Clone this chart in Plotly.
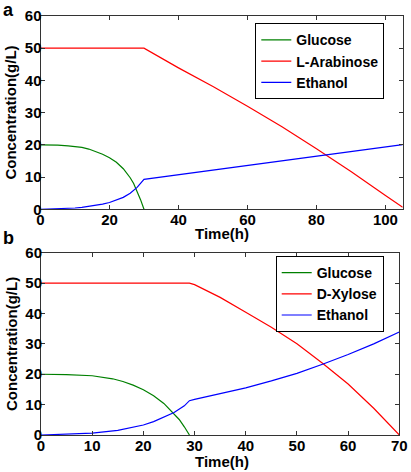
import plotly.graph_objects as go

# ---------------- data: panel a (L-Arabinose) ----------------
a_glc_t = [0, 2, 5, 8, 10, 12, 14, 16, 18, 20, 22, 24, 26, 27, 28, 29, 30]
a_glc_v = [20, 20, 19.9, 19.7, 19.5, 19.2, 18.7, 18.0, 17.1, 16.0, 14.6, 12.6, 9.8, 8.0, 5.7, 3.0, 0]

a_ara_t = [0, 30, 40, 50, 60, 70, 80, 90, 100, 105]
a_ara_v = [50, 50, 43.9, 38.1, 32.0, 25.6, 18.8, 11.7, 4.3, 0.6]

a_eth_t = [0, 5, 10, 12, 14, 16, 18, 20, 22, 24, 26, 28, 30, 105]
a_eth_v = [0, 0.1, 0.4, 0.6, 0.9, 1.2, 1.6, 2.1, 2.8, 3.7, 5.0, 6.8, 9.3, 20.1]

# ---------------- data: panel b (D-Xylose) ----------------
b_glc_t = [0, 5, 10, 12, 14, 16, 18, 20, 22, 24, 26, 27, 28, 29]
b_glc_v = [20, 19.9, 19.5, 19.1, 18.5, 17.6, 16.4, 14.9, 12.9, 10.4, 7.1, 5.1, 2.7, 0]

b_xyl_t = [0, 29, 30, 35, 40, 45, 50, 55, 60, 65, 70]
b_xyl_v = [50, 50, 49.5, 45.3, 40.4, 35.5, 30.0, 23.6, 16.8, 8.8, 0]

b_eth_t = [0, 5, 10, 15, 20, 22, 24, 26, 28, 29, 30, 35, 40, 45, 50, 55, 60, 65, 70]
b_eth_v = [0, 0.2, 0.6, 1.5, 3.3, 4.4, 5.8, 7.4, 9.6, 11.3, 11.7, 13.5, 15.5, 17.8, 20.3, 23.3, 26.5, 30.0, 33.9]

x_a_ticks = [0, 20, 40, 60, 80, 100]
x_b_ticks = [0, 10, 20, 30, 40, 50, 60, 70]
y_ticks = [0, 10, 20, 30, 40, 50, 60]

x_title = "Time(h)"
y_title = "Concentration(g/L)"

GREEN, RED, BLUE = "#008000", "#ff0000", "#0000ff"
FONT = "Liberation Sans, Arial, sans-serif"
W, H = 411, 472

fig = go.Figure()

def add(t, v, name, color, xa, ya, leg):
    fig.add_trace(go.Scatter(x=t, y=v, mode="lines", name=name,
                             line=dict(color=color, width=1.2),
                             xaxis=xa, yaxis=ya, legend=leg))

add(a_glc_t, a_glc_v, "Glucose", GREEN, "x", "y", "legend")
add(a_ara_t, a_ara_v, "L-Arabinose", RED, "x", "y", "legend")
add(a_eth_t, a_eth_v, "Ethanol", BLUE, "x", "y", "legend")
add(b_glc_t, b_glc_v, "Glucose", GREEN, "x2", "y2", "legend2")
add(b_xyl_t, b_xyl_v, "D-Xylose", RED, "x2", "y2", "legend2")
add(b_eth_t, b_eth_v, "Ethanol", BLUE, "x2", "y2", "legend2")

axcol = "#333333"
common = dict(showline=True, linecolor=axcol, linewidth=1, mirror="ticks",
              ticks="inside", ticklen=4, tickcolor=axcol, showgrid=False,
              zeroline=False, automargin=False,
              tickfont=dict(family=FONT, size=15, color="black", weight="bold"))
legfont = dict(family=FONT, size=14, color="black", weight="bold")

# domains from pixel positions
xd = [40.5 / W, 402.7 / W]
xd2 = [41 / W, 399.3 / W]
yd = [1 - 209.3 / H, 1 - 16 / H]
yd2 = [1 - 435 / H, 1 - 252.7 / H]

def ann(text, x, y, size=15, angle=0):
    return dict(text=text, x=x / W, y=1 - y / H, xref="paper", yref="paper",
                xanchor="center", yanchor="middle", showarrow=False, textangle=angle,
                font=dict(family=FONT, size=size, color="black", weight="bold"))

fig.update_layout(
    template="none",
    width=W, height=H,
    margin=dict(l=0, r=0, t=0, b=0, pad=0),
    paper_bgcolor="white", plot_bgcolor="white",
    showlegend=True,
    xaxis=dict(domain=xd, range=[0, 105], tickvals=x_a_ticks, anchor="y",
               ticklabelstandoff=-3, **common),
    yaxis=dict(domain=yd, range=[0, 60], tickvals=y_ticks, anchor="x",
               ticklabelstandoff=-5, **common),
    xaxis2=dict(domain=xd2, range=[0, 70], tickvals=x_b_ticks, anchor="y2",
                ticklabelstandoff=-3, **common),
    yaxis2=dict(domain=yd2, range=[0, 60], tickvals=y_ticks, anchor="x2",
                ticklabelstandoff=-5, **common),
    legend=dict(x=384.3 / W, xanchor="right", y=1 - 23.3 / H, yanchor="top",
                bgcolor="white", bordercolor="black", borderwidth=1,
                tracegroupgap=0, itemwidth=30, font=legfont),
    legend2=dict(x=383.7 / W, xanchor="right", y=1 - 256 / H, yanchor="top",
                 bgcolor="white", bordercolor="black", borderwidth=1,
                 tracegroupgap=0, itemwidth=30, font=legfont),
    annotations=[
        ann("a", 8, 9.5, 18),
        ann("b", 8.5, 238, 18),
        ann(x_title, 222, 233.5),
        ann(x_title, 222, 461.5),
        ann(y_title, 11, 112.6, angle=-90),
        ann(y_title, 11, 344, angle=-90),
    ],
)

fig.write_html("out.html", config={"displayModeBar": False},
               post_script="document.body.style.margin='0';document.body.style.overflow='hidden';")
